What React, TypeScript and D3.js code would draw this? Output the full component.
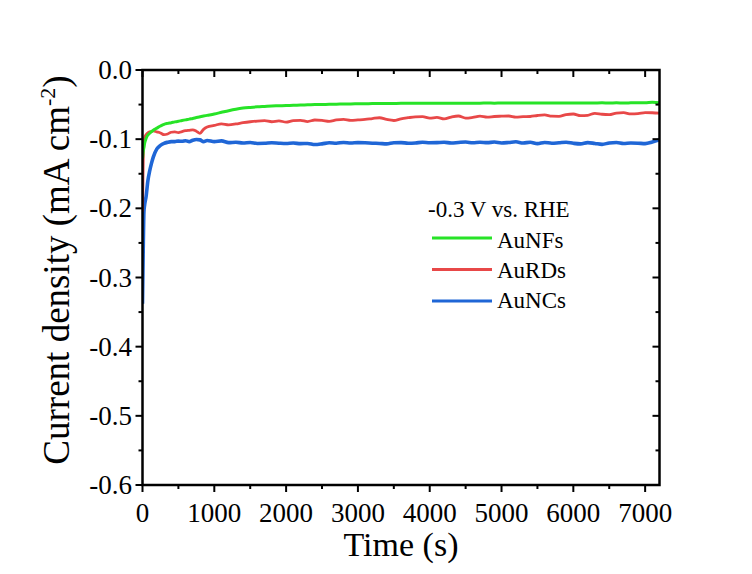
import React from "react";
import * as d3 from "d3";

const timeS = [
  0, 10, 20, 30, 50, 75, 100, 125, 150, 200, 250, 300, 350, 400, 450, 500, 550, 600, 650, 700, 750, 800, 850, 900,
  1000, 1100, 1200, 1300, 1400, 1500, 1600, 1700, 1800, 1900, 2000, 2100, 2200, 2300, 2400, 2500, 2600, 2700, 2800, 2900,
  3000, 3100, 3200, 3300, 3400, 3500, 3600, 3700, 3800, 3900, 4000, 4100, 4200, 4300, 4400, 4500, 4600, 4700, 4800, 4900,
  5000, 5100, 5200, 5300, 5400, 5500, 5600, 5700, 5800, 5900, 6000, 6100, 6200, 6300, 6400, 6500, 6600, 6700, 6800, 6900,
  7000, 7100, 7200,
];

const auNFs = [
  -0.128, -0.118, -0.112, -0.106, -0.099, -0.094, -0.0915, -0.089, -0.087, -0.084, -0.081, -0.0785, -0.0772, -0.0762, -0.075, -0.074, -0.0731, -0.0721, -0.071, -0.07, -0.0688, -0.0677, -0.0666, -0.0656,
  -0.0636, -0.0612, -0.0588, -0.0567, -0.0551, -0.0541, -0.0533, -0.0527, -0.0521, -0.0517, -0.0513, -0.051, -0.0506, -0.0503, -0.05, -0.0498, -0.0496, -0.0494, -0.0492, -0.049,
  -0.0488, -0.0487, -0.0486, -0.0484, -0.0484, -0.0483, -0.0482, -0.0482, -0.0481, -0.0481, -0.048, -0.048, -0.0481, -0.048, -0.0479, -0.048, -0.0479, -0.0479, -0.0478, -0.0479,
  -0.0478, -0.0478, -0.0477, -0.0478, -0.0477, -0.0477, -0.0478, -0.0477, -0.0476, -0.0477, -0.0476, -0.0476, -0.0477, -0.0476, -0.0475, -0.0476, -0.0475, -0.0476, -0.0475, -0.0474,
  -0.0475, -0.0465, -0.0472,
];

const auRDs = [
  -0.205, -0.13, -0.106, -0.098, -0.0935, -0.091, -0.0895, -0.089, -0.088, -0.0895, -0.091, -0.0935, -0.0925, -0.09, -0.0895, -0.0905, -0.089, -0.0878, -0.0872, -0.0866, -0.0885, -0.0915, -0.0858, -0.0825,
  -0.0802, -0.0778, -0.0792, -0.078, -0.0762, -0.0748, -0.0738, -0.0733, -0.0748, -0.0735, -0.0755, -0.0733, -0.0728, -0.0745, -0.0723, -0.0728, -0.0742, -0.0722, -0.0713, -0.0728,
  -0.0722, -0.0715, -0.0702, -0.069, -0.0715, -0.073, -0.0705, -0.069, -0.0678, -0.0675, -0.0697, -0.0684, -0.0708, -0.068, -0.0665, -0.0695, -0.0685, -0.0668, -0.0682, -0.0672,
  -0.0668, -0.0665, -0.068, -0.0675, -0.0672, -0.0658, -0.065, -0.0668, -0.067, -0.0645, -0.0636, -0.066, -0.0655, -0.0626, -0.064, -0.0645, -0.0622, -0.0617, -0.0635, -0.0632,
  -0.0617, -0.0618, -0.0625,
];

const auNCs = [
  -0.338, -0.26, -0.205, -0.195, -0.183, -0.16, -0.146, -0.135, -0.126, -0.114, -0.109, -0.106, -0.1045, -0.1036, -0.1035, -0.1028, -0.103, -0.1022, -0.1035, -0.1015, -0.1005, -0.101, -0.1035, -0.102,
  -0.1036, -0.1025, -0.105, -0.1045, -0.1055, -0.1048, -0.1062, -0.106, -0.1052, -0.1058, -0.1062, -0.1056, -0.1065, -0.1062, -0.1078, -0.1068, -0.1052, -0.1058, -0.1048, -0.1055,
  -0.105, -0.1052, -0.1058, -0.1062, -0.1068, -0.1052, -0.105, -0.1058, -0.1055, -0.1045, -0.1052, -0.105, -0.1045, -0.1055, -0.1048, -0.1042, -0.1052, -0.1045, -0.105, -0.1042,
  -0.1055, -0.1048, -0.1038, -0.1055, -0.1045, -0.1065, -0.1048, -0.1058, -0.1052, -0.1045, -0.106, -0.1068, -0.105, -0.1062, -0.1075, -0.1055, -0.1048, -0.1062, -0.1055, -0.1058,
  -0.1065, -0.1042, -0.101,
];

const seriesNames = ["AuNFs", "AuRDs", "AuNCs"];
const seriesColors = ["#27e327", "#e84848", "#1f66d6"];
const seriesValues = [auNFs, auRDs, auNCs];

const xMajorTicks = [0, 1000, 2000, 3000, 4000, 5000, 6000, 7000];
const xMinorTicks = [500, 1500, 2500, 3500, 4500, 5500, 6500];
const yMajorTicks = [0, -0.1, -0.2, -0.3, -0.4, -0.5, -0.6];
const yMinorTicks = [-0.05, -0.15, -0.25, -0.35, -0.45, -0.55];
const yTickLabels = ["0.0", "-0.1", "-0.2", "-0.3", "-0.4", "-0.5", "-0.6"];

const legendTitle = "-0.3 V vs. RHE";

const W = 752;
const H = 574;
const L = 142.5;
const R = 659.5;
const T = 70;
const B = 485;
const FONT = "Liberation Serif, Times New Roman, serif";

export default function App() {
  const x = d3.scaleLinear().domain([0, 7200]).range([L, R]);
  const y = d3.scaleLinear().domain([-0.6, 0]).range([B, T]);
  const line = d3
    .line<number>()
    .x((_, i) => x(timeS[i]))
    .y((d) => y(d))
    .curve(d3.curveMonotoneX);

  const maj = 7;
  const min = 4;
  const txt = { fontFamily: FONT } as React.CSSProperties;

  return (
    <svg
      width={W}
      height={H}
      viewBox={`0 0 ${W} ${H}`}
      style={{ position: "absolute", left: 0, top: 0, background: "#fff" }}
    >
      <rect x={0} y={0} width={W} height={H} fill="#fff" />
      <defs>
        <clipPath id="plot-clip">
          <rect x={L} y={T} width={R - L} height={B - T} />
        </clipPath>
      </defs>

      <g clipPath="url(#plot-clip)" fill="none" strokeLinejoin="round">
        {[2, 1, 0].map((k) => (
          <path
            key={seriesNames[k]}
            d={line(seriesValues[k]) || ""}
            stroke={seriesColors[k]}
            strokeWidth={k === 2 ? 3.6 : k === 0 ? 3 : 2.8}
          />
        ))}
      </g>

      <g stroke="#000" strokeWidth={2}>
        {xMajorTicks.map((t) => (
          <g key={"xm" + t}>
            <line x1={x(t)} x2={x(t)} y1={B} y2={B + maj} />
            <line x1={x(t)} x2={x(t)} y1={T} y2={T + maj} />
          </g>
        ))}
        {xMinorTicks.map((t) => (
          <g key={"xn" + t}>
            <line x1={x(t)} x2={x(t)} y1={B} y2={B + min} />
            <line x1={x(t)} x2={x(t)} y1={T} y2={T + min} />
          </g>
        ))}
        {yMajorTicks.map((v) => (
          <g key={"ym" + v}>
            <line x1={L - maj} x2={L} y1={y(v)} y2={y(v)} />
            <line x1={R - maj} x2={R} y1={y(v)} y2={y(v)} />
          </g>
        ))}
        {yMinorTicks.map((v) => (
          <g key={"yn" + v}>
            <line x1={L - min} x2={L} y1={y(v)} y2={y(v)} />
            <line x1={R - min} x2={R} y1={y(v)} y2={y(v)} />
          </g>
        ))}
      </g>

      <rect x={L} y={T} width={R - L} height={B - T} fill="none" stroke="#000" strokeWidth={2.5} />

      {xMajorTicks.map((t) => (
        <text key={"xl" + t} x={x(t)} y={522} textAnchor="middle" fontSize={27} fill="#000" style={txt}>
          {String(t)}
        </text>
      ))}
      {yMajorTicks.map((v, i) => (
        <text key={"yl" + v} x={132} y={y(v) + 9} textAnchor="end" fontSize={27} fill="#000" style={txt}>
          {yTickLabels[i]}
        </text>
      ))}

      <text x={(L + R) / 2} y={556} textAnchor="middle" fontSize={34} fill="#000" style={txt}>
        Time (s)
      </text>
      <text
        transform={`translate(69, 270) rotate(-90)`}
        textAnchor="middle"
        fontSize={37}
        fill="#000"
        style={txt}
      >
        Current density (mA cm
        <tspan fontSize={22} dy={-14}>-2</tspan>
        <tspan dy={14}>)</tspan>
      </text>

      <text x={428} y={217} fontSize={23} fill="#000" style={txt}>
        {legendTitle}
      </text>
      {seriesNames.map((n, i) => (
        <g key={"lg" + n}>
          <line
            x1={432}
            x2={492}
            y1={238 + i * 31.5}
            y2={238 + i * 31.5}
            stroke={seriesColors[i]}
            strokeWidth={3}
          />
          <text x={497} y={248 + i * 30} fontSize={23} fill="#000" style={txt}>
            {n}
          </text>
        </g>
      ))}
    </svg>
  );
}
